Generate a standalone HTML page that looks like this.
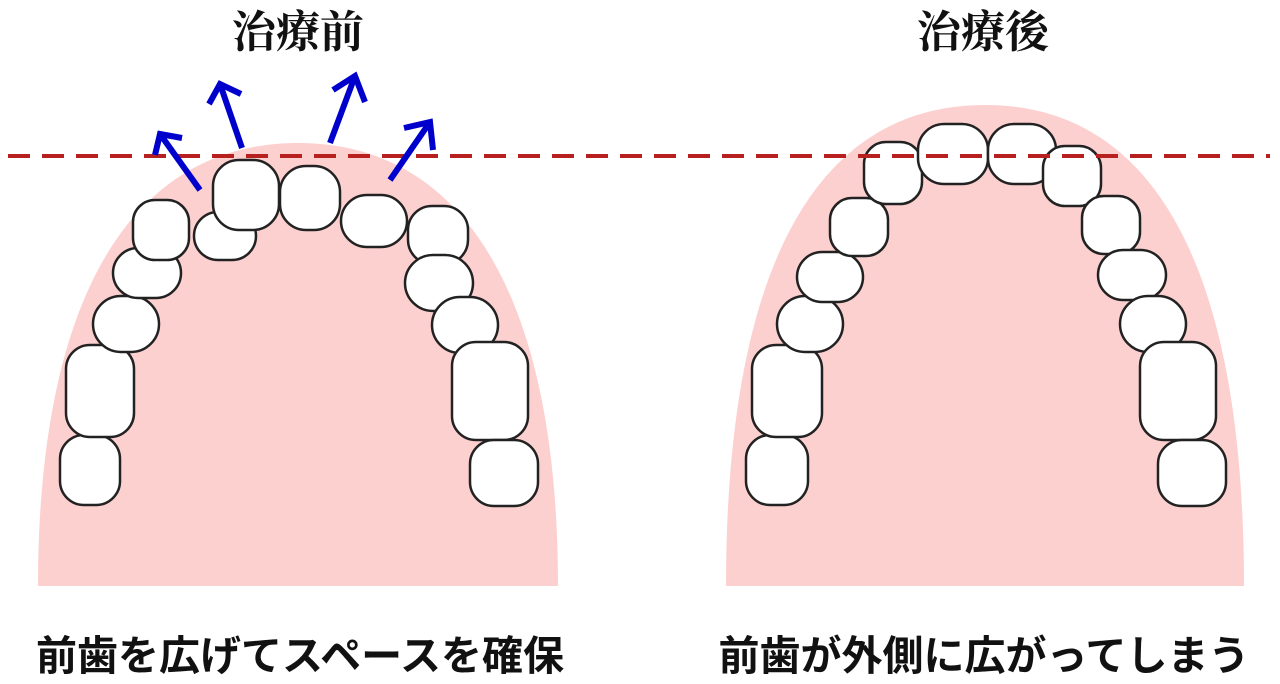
<!DOCTYPE html>
<html><head><meta charset="utf-8"><style>
body{margin:0;background:#fff;width:1280px;height:678px;overflow:hidden}
.t{position:absolute;font-family:"Liberation Sans","Noto Sans CJK JP",sans-serif;font-weight:bold;color:#111;text-align:center;white-space:nowrap}
.s{font-family:"Liberation Serif","Noto Serif CJK SC",serif}
</style></head><body>
<div class="t s" style="left:148px;width:300px;top:6px;font-size:44px;line-height:54px">治療前</div>
<div class="t s" style="left:833px;width:300px;top:6px;font-size:44px;line-height:54px">治療後</div>
<div class="t" style="left:0;width:600px;top:628px;font-size:41px;line-height:56px">前歯を広げてスペースを確保</div>
<div class="t" style="left:684px;width:600px;top:628px;font-size:41px;line-height:56px">前歯が外側に広がってしまう</div>
<svg width="1280" height="678" style="position:absolute;left:0;top:0">
<path d="M38,586 C38,300 130,143 298,143 C466,143 558,300 558,586 Z" fill="#fdd0d0"/>
<path d="M726,586 C726,260 820,105 985,105 C1150,105 1244,260 1244,586 Z" fill="#fdd0d0"/>
<g fill="#fff" stroke="#222" stroke-width="2.5">
<rect x="60" y="435" width="60" height="70" rx="24"/>
<rect x="66" y="345" width="68" height="92" rx="24"/>
<rect x="93" y="296" width="66" height="56" rx="28"/>
<rect x="113" y="248" width="68" height="50" rx="25"/>
<rect x="133" y="200" width="56" height="60" rx="22"/>
<rect x="194" y="212" width="62" height="48" rx="24"/>
<rect x="213" y="160" width="66" height="70" rx="26"/>
<rect x="280" y="166" width="60" height="64" rx="26"/>
<rect x="341" y="195" width="66" height="52" rx="26"/>
<rect x="408" y="206" width="60" height="58" rx="24"/>
<rect x="405" y="255" width="68" height="56" rx="28"/>
<rect x="432" y="297" width="66" height="56" rx="28"/>
<rect x="452" y="342" width="76" height="98" rx="24"/>
<rect x="470" y="440" width="68" height="66" rx="24"/>

<rect x="746" y="435" width="62" height="70" rx="24"/>
<rect x="752" y="345" width="70" height="92" rx="24"/>
<rect x="777" y="296" width="66" height="56" rx="28"/>
<rect x="797" y="252" width="66" height="50" rx="25"/>
<rect x="830" y="198" width="58" height="58" rx="22"/>
<rect x="864" y="142" width="58" height="62" rx="22"/>
<rect x="918" y="124" width="70" height="60" rx="26"/>
<rect x="988" y="124" width="68" height="60" rx="26"/>
<rect x="1043" y="146" width="58" height="60" rx="22"/>
<rect x="1082" y="196" width="58" height="58" rx="22"/>
<rect x="1098" y="250" width="68" height="50" rx="25"/>
<rect x="1120" y="296" width="66" height="56" rx="28"/>
<rect x="1140" y="342" width="76" height="98" rx="24"/>
<rect x="1158" y="440" width="68" height="66" rx="24"/>
</g>
<line x1="8" y1="156" x2="1270" y2="156" stroke="#b82020" stroke-width="4" stroke-dasharray="22 12"/>
<g stroke="#0000cc" stroke-width="6" fill="none">
<line x1="200" y1="190" x2="160" y2="134"/><polyline points="155,155 160,134 182,138"/>
<line x1="242" y1="148" x2="220" y2="84"/><polyline points="209,104 220,84 241,94"/>
<line x1="330" y1="143" x2="355" y2="76"/><polyline points="333,90 355,76 365,102"/>
<line x1="390" y1="180" x2="430" y2="122"/><polyline points="404,128 430,122 433,150"/>
</g>
</svg>
</body></html>
